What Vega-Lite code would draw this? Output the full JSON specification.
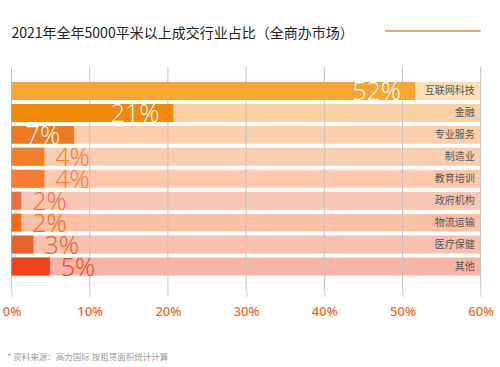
{
  "$schema": "https://vega.github.io/schema/vega-lite/v6.json",
  "width": 469.2,
  "height": 223.5,
  "autosize": "none",
  "padding": {"left": 11.5, "top": 67, "right": 19.3, "bottom": 76.5},
  "background": "#ffffff",
  "config": {"view": {"stroke": null}},
  "title": {
    "text": "2021年全年5000平米以上成交行业占比（全商办市场）",
    "anchor": "start",
    "frame": "group",
    "font": "Noto Sans CJK SC",
    "fontSize": 14,
    "fontWeight": "normal",
    "color": "#222222",
    "offset": -11
  },
  "data": {
    "values": [
      {"industry": "互联网科技", "value": 0.516, "label": "52%"},
      {"industry": "金融", "value": 0.207, "label": "21%"},
      {"industry": "专业服务", "value": 0.08, "label": "7%"},
      {"industry": "制造业", "value": 0.042, "label": "4%"},
      {"industry": "教育培训", "value": 0.042, "label": "4%"},
      {"industry": "政府机构", "value": 0.0125, "label": "2%"},
      {"industry": "物流运输", "value": 0.0125, "label": "2%"},
      {"industry": "医疗保健", "value": 0.028, "label": "3%"},
      {"industry": "其他", "value": 0.049, "label": "5%"}
    ]
  },
  "encoding": {
    "y": {
      "field": "industry",
      "type": "nominal",
      "sort": null,
      "scale": {"paddingInner": 0.18, "paddingOuter": 0.684},
      "axis": null
    }
  },
  "layer": [
    {
      "mark": {"type": "bar"},
      "encoding": {
        "x": {
          "datum": 0,
          "type": "quantitative",
          "scale": {"domain": [0, 0.6], "nice": false},
          "axis": {
            "values": [0, 0.1, 0.2, 0.3, 0.4, 0.5, 0.6],
            "format": ".0%",
            "grid": false,
            "domain": false,
            "ticks": true,
            "tickColor": "#cccccc",
            "tickSize": 6,
            "labelColor": "#f26a1a",
            "labelFont": "Noto Sans",
            "labelFontSize": 13,
            "labelFontWeight": 500,
            "labelPadding": 9,
            "labelFlush": false,
            "title": "* 资料来源：高力国际 按租赁面积统计计算",
            "titleFont": "Noto Sans CJK SC",
            "titleFontSize": 8.5,
            "titleFontWeight": "normal",
            "titleColor": "#999999",
            "titleAnchor": "start",
            "titleAlign": "left",
            "titleBaseline": "middle",
            "titleX": -4.5,
            "titleY": 66
          }
        },
        "x2": {"datum": 0.6},
        "fill": {
          "field": "industry",
          "type": "nominal",
          "scale": {
            "domain": ["互联网科技", "金融", "专业服务", "制造业", "教育培训", "政府机构", "物流运输", "医疗保健", "其他"],
            "range": ["#fde0b6", "#fbd0a5", "#fccfac", "#fbcdb0", "#fdc8ad", "#f9c6b4", "#fcc0a5", "#f8c0ae", "#f8b4a8"]
          },
          "legend": null
        }
      }
    },
    {
      "data": {"values": [{"tick": 0}, {"tick": 0.1}, {"tick": 0.2}, {"tick": 0.3}, {"tick": 0.4}, {"tick": 0.5}, {"tick": 0.6}]},
      "mark": {"type": "rule", "color": "#c9c2bd", "strokeWidth": 1},
      "encoding": {
        "x": {"field": "tick", "type": "quantitative"},
        "y": null
      }
    },
    {
      "mark": {"type": "bar"},
      "encoding": {
        "x": {"field": "value", "type": "quantitative"},
        "color": {
          "field": "industry",
          "type": "nominal",
          "scale": {
            "domain": ["互联网科技", "金融", "专业服务", "制造业", "教育培训", "政府机构", "物流运输", "医疗保健", "其他"],
            "range": ["#f7a533", "#f28a07", "#f07a20", "#f07f2a", "#f97b32", "#ee6c3e", "#f76a15", "#e8622a", "#ec4418"]
          },
          "legend": null
        }
      }
    },
    {
      "transform": [{"filter": "datum.value >= 0.07"}],
      "mark": {"type": "text", "align": "right", "baseline": "alphabetic", "dx": -14, "dy": 9.5, "font": "Open Sans", "fontWeight": 300, "fontSize": 25, "color": "#ffffff"},
      "encoding": {
        "x": {"field": "value", "type": "quantitative"},
        "text": {"field": "label", "type": "nominal"}
      }
    },
    {
      "transform": [{"filter": "datum.value < 0.07"}],
      "mark": {"type": "text", "align": "left", "baseline": "alphabetic", "dx": 11, "dy": 9.5, "font": "Open Sans", "fontWeight": 300, "fontSize": 25},
      "encoding": {
        "x": {"field": "value", "type": "quantitative"},
        "text": {"field": "label", "type": "nominal"},
        "color": {"field": "industry", "type": "nominal", "legend": null}
      }
    },
    {
      "mark": {"type": "text", "align": "right", "baseline": "middle", "dx": -6, "font": "Noto Sans CJK SC", "fontSize": 10, "color": "#555555"},
      "encoding": {
        "x": {"datum": 0.6, "type": "quantitative"},
        "text": {"field": "industry", "type": "nominal"}
      }
    },
    {
      "data": {"values": [{"start": 0.478, "end": 0.6}]},
      "mark": {"type": "rule", "color": "#f9a070", "strokeWidth": 2},
      "encoding": {
        "x": {"field": "start", "type": "quantitative"},
        "x2": {"field": "end"},
        "y": {"value": -36}
      }
    }
  ]
}
